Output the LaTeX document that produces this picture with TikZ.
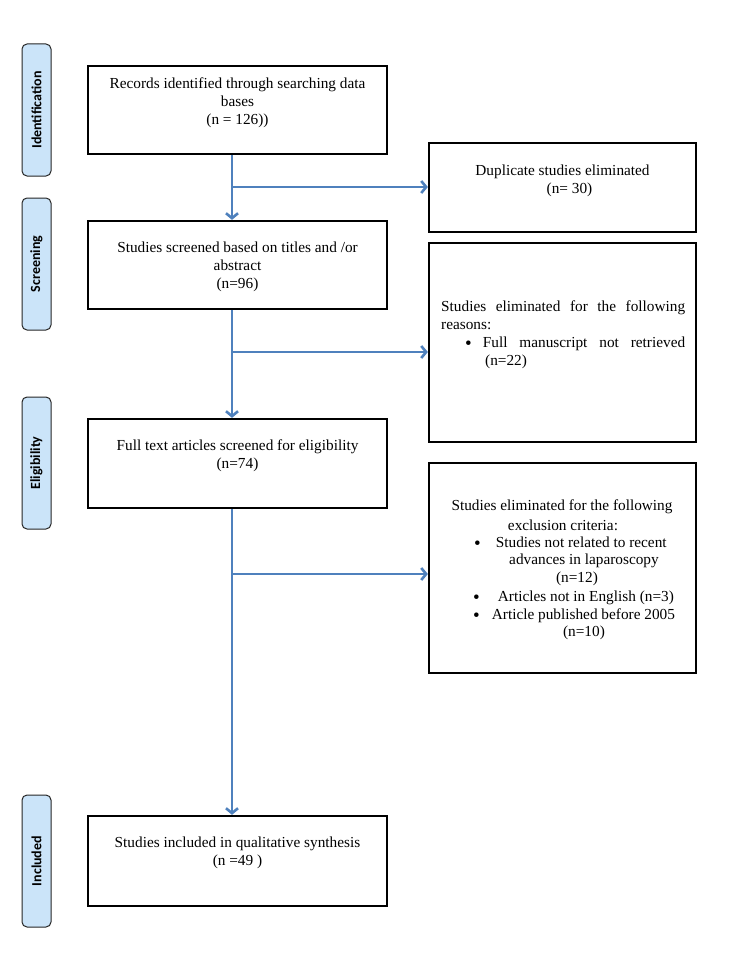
\documentclass[tikz,border=0pt]{standalone}
\usepackage{fontspec}
\setmainfont{Liberation Serif}
\newfontfamily\lblfont{Carlito}
\usetikzlibrary{arrows.meta}
\definecolor{arrblue}{HTML}{4F81BD}
\definecolor{lblfill}{HTML}{CBE4F9}
\newcommand{\bigbul}{\raisebox{-1.5pt}{\fontsize{19}{18}\selectfont\textbullet}}
\tikzset{
  mainbox/.style={draw=black, line width=2.2pt, inner sep=0pt},
  phase/.style={draw=black!85, line width=1pt, fill=lblfill, rounded corners=5pt, inner sep=0pt, minimum width=29pt},
  phasetext/.style={rotate=90, font=\lblfont\bfseries\fontsize{14}{16}\selectfont},
  txt/.style={inner sep=0pt, align=center, font=\fontsize{15.3}{18}\selectfont},
  bul/.style={inner sep=0pt, anchor=base west, font=\fontsize{15.3}{18}\selectfont},
  flow/.style={draw=arrblue, line width=2.6pt, -{Straight Barb[length=5pt,width=12pt]}}
}
\begin{document}
\begin{tikzpicture}[x=1pt,y=-1pt]
\useasboundingbox (0,0) rectangle (750,971);
% phase labels
\node[phase, minimum height=132pt] (p1) at (36.5,110) {};
\node[phasetext] (p1t) at (p1.center) {Identification};
\node[phase, minimum height=132pt] (p2) at (36.5,264) {};
\node[phasetext] (p2t) at (p2.center) {Screening};
\node[phase, minimum height=132pt] (p3) at (36.5,463) {};
\node[phasetext] (p3t) at (p3.center) {Eligibility};
\node[phase, minimum height=132pt] (p4) at (36.5,861) {};
\node[phasetext] (p4t) at (p4.center) {Included};
% main boxes
\node[mainbox, minimum width=299pt, minimum height=88pt] (b1) at (237.5,110) {};
\node[txt] (b1t) at (237.5,103) {Records identified through searching data\\bases\\(n = 126))};
\node[mainbox, minimum width=299pt, minimum height=88pt] (b2) at (237.5,265) {};
\node[txt] (b2t) at (237.5,267) {Studies screened based on titles and /or\\abstract\\(n=96)};
\node[mainbox, minimum width=299pt, minimum height=89pt] (b3) at (237.5,463.5) {};
\node[txt] (b3t) at (237.5,456) {Full text articles screened for eligibility\\(n=74)};
\node[mainbox, minimum width=299pt, minimum height=90pt] (b4) at (237.5,861) {};
\node[txt] (b4t) at (237.5,853) {Studies included in qualitative synthesis\\(n =49 )};
% right boxes
\node[mainbox, minimum width=267pt, minimum height=89pt] (r1) at (562.5,187.5) {};
\node[txt] (r1t) at (562.5,181) {Duplicate studies eliminated\\\hspace*{14pt}(n= 30)};
\node[mainbox, minimum width=267pt, minimum height=199pt] (r2) at (562.5,342.5) {};
\node[inner sep=0pt, anchor=west, align=left, font=\fontsize{15.3}{18}\selectfont] (r2t) at (441,335) {%
\makebox[244pt][s]{Studies eliminated for the following}\\
reasons:\\
\makebox[244pt][s]{\hspace*{24pt}\bigbul\hspace*{11pt}Full manuscript not retrieved}\\
\hspace*{44pt}(n=22)};
\node[mainbox, minimum width=267pt, minimum height=210pt] (r3) at (562.5,568) {};
\node[txt] (r3a) at (562,507) {Studies eliminated for the following};
\node[txt] (r3b) at (563,525) {exclusion criteria:};
\node[bul] (r3c) at (474,547.5) {\bigbul\hspace*{15pt}Studies not related to recent};
\node[txt] (r3d) at (584,561) {advances in laparoscopy};
\node[txt] (r3e) at (577,579) {(n=12)};
\node[bul] (r3f) at (473,601.5) {\bigbul\hspace*{18pt}Articles not in English (n=3)};
\node[bul] (r3g) at (473,619.5) {\bigbul\hspace*{12pt}Article published before 2005};
\node[txt] (r3h) at (584,633) {(n=10)};
% connectors
\coordinate (c1) at (232,187);
\coordinate (c2) at (232,352);
\coordinate (c3) at (232,574);
\draw[flow] (b1.south -| c1) -- (b2.north -| c1);
\draw[flow] (c1) -- (c1 -| r1.west);
\draw[flow] (b2.south -| c2) -- (b3.north -| c2);
\draw[flow] (c2) -- (c2 -| r2.west);
\draw[flow] (b3.south -| c3) -- (b4.north -| c3);
\draw[flow] (c3) -- (c3 -| r3.west);
\end{tikzpicture}
\end{document}
